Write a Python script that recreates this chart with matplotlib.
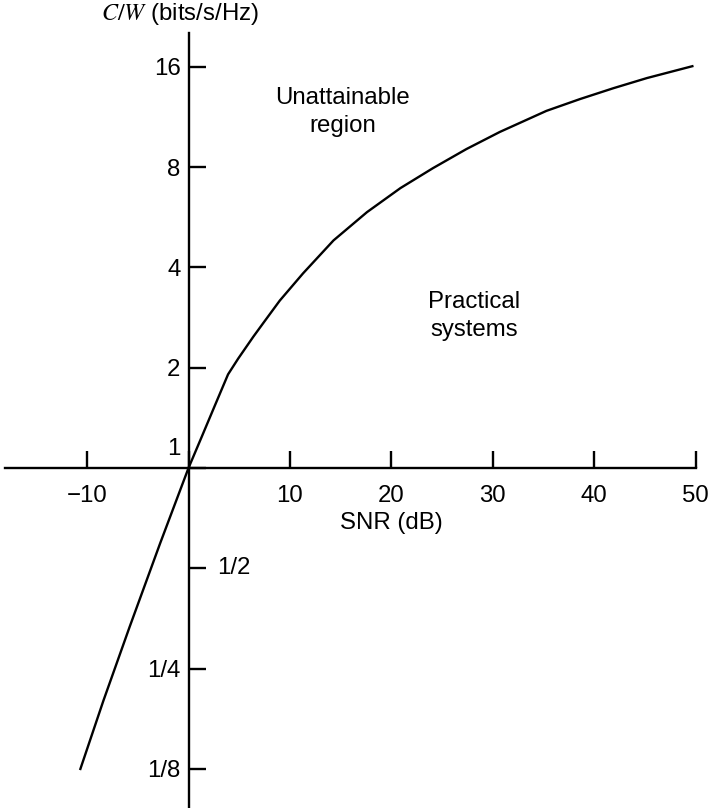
import matplotlib
matplotlib.use("Agg")
import matplotlib.pyplot as plt

plt.rcParams['font.family'] = ['Liberation Sans', 'DejaVu Sans']
plt.rcParams['mathtext.fontset'] = 'stix'

# values
snr_db = [-10.7, -8.4, -5.8, -2.8, 0, 1.3, 2.6, 3.9, 4.9, 6.4, 7.4, 9.0, 11.3, 14.3,
          17.6, 20.9, 24.1, 27.4, 30.7, 35.3, 38.6, 41.9, 45.2, 49.8]
cw = [0.124, 0.20, 0.334, 0.594, 1.0, 1.24, 1.54, 1.91, 2.13, 2.48, 2.73, 3.18, 3.84, 4.82,
      5.86, 6.92, 7.94, 9.06, 10.2, 11.8, 12.8, 13.8, 14.8, 16.1]

x_ticks = [-10, 0, 10, 20, 30, 40, 50]
x_labels = ['\u221210', '', '10', '20', '30', '40', '50']
y_ticks = [1/8, 1/4, 1/2, 1, 2, 4, 8, 16]
y_labels = ['1/8', '1/4', '', '', '2', '4', '8', '16']

fs = 17.3
lw = 1.7

fig = plt.figure(figsize=(7.08, 8.08), dpi=100)
ax = fig.add_axes([0, 0, 1, 1])
ax.set_yscale('log', base=2)
ax.set_xlim(-18.59, 51.23)
ax.set_ylim(2 ** (-340 / 100.3), 2 ** (468 / 100.3))

ax.plot(snr_db, cw, color='black', lw=lw, solid_capstyle='butt', solid_joinstyle='round')

for s in ['top', 'right']:
    ax.spines[s].set_visible(False)
ax.spines['left'].set_position(('data', 0))
ax.spines['bottom'].set_position(('data', 1))
ax.spines['left'].set_bounds(2 ** (-340 / 100.3), 2 ** (435 / 100.3))
ax.spines['bottom'].set_bounds(-18.1, 50)
for s in ['left', 'bottom']:
    ax.spines[s].set_linewidth(lw)

ax.set_xticks(x_ticks)
ax.set_xticklabels(x_labels)
ax.set_yticks(y_ticks)
ax.set_yticklabels(y_labels)
ax.yaxis.set_minor_locator(matplotlib.ticker.NullLocator())
ax.tick_params(axis='both', direction='in', length=12.2, width=lw, labelsize=fs)
ax.tick_params(axis='x', pad=12)
ax.tick_params(axis='y', pad=5.8)

ax.annotate('1', xy=(0, 1), xytext=(-8, 19), textcoords='offset pixels',
            ha='right', va='center', fontsize=fs)
ax.annotate('1/2', xy=(0, 1/2), xytext=(29, 0), textcoords='offset pixels',
            ha='left', va='center', fontsize=fs)
ax.annotate('SNR (dB)', xy=(20, 1), xytext=(0, -55), textcoords='offset pixels',
            ha='center', va='center', fontsize=fs)
ax.text(180 / 708, 1 - 14 / 808, '$C/W$ (bits/s/Hz)', transform=ax.transAxes,
        ha='center', va='center', fontsize=fs)

ax.text(15.2, 2 ** ((468 - 112) / 100.3), 'Unattainable\nregion', ha='center',
        va='center', fontsize=fs, linespacing=1.38)
ax.text(28.2, 2 ** ((468 - 316) / 100.3), 'Practical\nsystems', ha='center',
        va='center', fontsize=fs, linespacing=1.38)

fig.savefig('out.png', dpi=100)
